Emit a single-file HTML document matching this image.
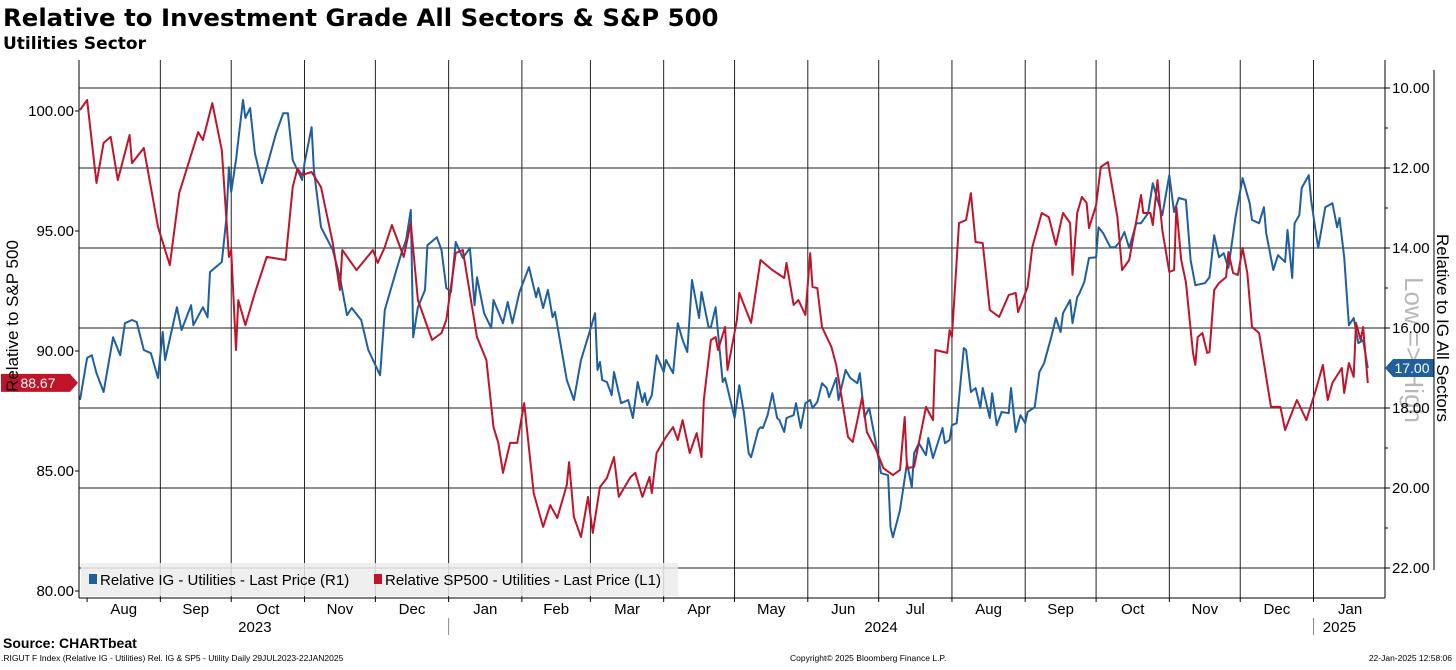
<!DOCTYPE html>
<html><head><meta charset="utf-8"><style>
html,body{margin:0;padding:0;background:#fff;}
body{width:1456px;height:665px;overflow:hidden;position:relative;font-family:"Liberation Sans","DejaVu Sans",sans-serif;}
svg text{font-family:"Liberation Sans","DejaVu Sans",sans-serif;}
</style></head><body>
<svg id="chart" width="1456" height="665" xmlns="http://www.w3.org/2000/svg">
<text x="3" y="26" font-size="24.4" font-weight="bold" fill="#000" style="font-family:'DejaVu Sans',sans-serif">Relative to Investment Grade All Sectors &amp; S&amp;P 500</text>
<text x="3" y="49" font-size="17" font-weight="bold" fill="#000" style="font-family:'DejaVu Sans',sans-serif">Utilities Sector</text>
<g id="grid"></g>
<g id="watermark"><text x="1405" y="350" font-size="26" fill="#b8b8b8" text-anchor="middle" transform="rotate(90 1405 350)">Low =&gt; High</text></g>
<g id="series"></g>
<g id="legend">
<rect x="81" y="563" width="597" height="33" fill="#ececec" fill-opacity="0.85"/>
<rect x="89" y="574" width="8" height="10" fill="#1f5f9e"/>
<text x="100" y="585" font-size="15" fill="#000">Relative IG - Utilities - Last Price (R1)</text>
<rect x="374" y="574" width="8" height="10" fill="#c0142b"/>
<text x="385" y="585" font-size="15" fill="#000">Relative SP500 - Utilities - Last Price (L1)</text>
</g>
<g id="axes"></g>
<text x="18" y="316" font-size="17" text-anchor="middle" transform="rotate(-90 18 316)">Relative to S&amp;P 500</text>
<text x="1437" y="328" font-size="17" text-anchor="middle" transform="rotate(90 1437 328)">Relative to IG All Sectors</text>
<line x1="1434" y1="70" x2="1434" y2="570" stroke="#000" stroke-width="1"/>
<text x="3" y="648" font-size="14" font-weight="bold">Source: CHARTbeat</text>
<text x="1" y="661" font-size="8.5">.RIGUT F Index (Relative IG - Utilities) Rel. IG &amp; SP5 - Utility  Daily 29JUL2023-22JAN2025</text>
<text x="790" y="661" font-size="8.5">Copyright© 2025 Bloomberg Finance L.P.</text>
<text x="1452" y="661" font-size="8.5" text-anchor="end">22-Jan-2025 12:58:06</text>
</svg>
<script>
// ---- data (days since 29 Jul 2023) ----
const redDays = [0,3,7,10,13,16,21,22,27,33,38,42,50,52,56,60,63,64,66,67,70,74,79,87,90,92,94,98,102,107,110,111,117,124,126,129,132,137,140,143,149,153,155,159,162,168,172,175,177,179,182,185,188,192,196,199,202,206,207,209,212,215,217,220,223,226,228,233,235,238,241,242,244,248,251,253,255,258,261,263,264,267,269,270,273,274,278,279,284,288,293,298,299,302,304,307,309,310,312,314,318,320,322,325,327,329,331,333,337,340,344,347,349,350,353,358,361,362,367,368,369,372,375,377,379,382,385,389,393,396,397,401,403,407,410,413,416,419,420,422,424,426,427,430,432,435,439,441,444,449,450,453,454,456,458,461,463,464,466,468,471,472,473,475,477,478,480,482,485,486,488,490,492,494,496,499,501,504,508,510,515,519,523,526,528,530,534,535,537,539,540,542,543,545];
const redVals = [100.04,100.46,97.0,98.67,98.92,97.12,99.0,97.83,98.46,95.17,93.58,96.58,99.12,98.79,100.33,98.37,93.92,94.21,90.04,92.12,91.08,92.42,93.92,93.79,96.83,97.6,97.33,97.46,96.83,94.5,92.54,94.21,93.37,94.21,93.67,94.33,95.25,93.92,95.33,92.12,90.46,90.75,91.29,94.08,94.21,90.58,89.62,86.83,86.17,84.92,86.17,86.17,87.83,84.08,82.67,83.58,83.04,84.42,85.37,83.08,82.25,83.92,82.42,84.33,84.71,85.58,83.92,84.75,84.92,83.92,84.75,84.08,85.75,86.42,86.83,86.29,87.12,85.75,86.58,85.58,87.96,90.46,90.58,90.04,91.0,89.21,91.29,92.42,91.17,93.79,93.37,93.04,93.67,91.92,92.12,91.5,94.08,92.67,92.62,91.0,90.17,89.42,88.25,86.42,86.21,87.12,88.08,86.62,85.87,85.12,84.83,85.04,87.25,85.12,85.17,87.67,87.12,90.04,89.92,90.87,90.58,95.33,95.46,96.58,94.54,94.5,91.71,91.42,92.33,92.42,91.62,92.67,94.33,95.75,95.58,94.42,95.75,95.33,93.17,95.75,96.42,96.17,95.12,96.08,97.67,97.87,95.58,93.37,93.79,96.5,95.75,95.75,95.25,97.12,95.04,93.29,93.37,96.0,93.79,92.87,89.92,89.42,90.58,90.75,89.92,89.96,92.54,92.83,93.08,94.12,93.25,93.17,94.29,93.25,91.0,90.75,89.5,87.67,87.67,86.71,87.96,87.12,88.37,89.42,87.96,88.67,89.29,88.25,89.5,88.92,91.17,90.46,91.0,88.67];
const blueDays = [0,3,5,7,10,14,17,19,22,24,27,30,33,35,36,41,43,47,48,52,54,55,60,62,63,64,66,69,70,72,74,77,79,83,86,88,90,94,95,98,99,102,107,110,113,115,119,122,127,129,133,136,138,140,141,143,146,147,151,153,155,157,159,162,165,167,168,171,174,175,179,181,183,186,190,193,194,196,198,200,201,206,209,212,215,218,219,220,221,223,225,226,229,232,234,236,238,239,240,242,244,247,248,251,253,255,257,259,262,263,266,267,269,272,273,277,279,281,283,284,287,288,289,291,293,295,296,298,299,302,303,305,307,309,310,312,314,316,317,320,321,324,326,329,330,332,334,336,339,342,343,344,347,350,352,353,355,358,359,361,365,366,368,369,371,374,375,377,379,381,382,385,386,388,390,393,394,396,398,400,401,404,406,408,411,413,415,416,419,420,422,423,425,427,430,431,433,436,438,440,442,444,447,449,452,454,456,458,461,463,465,468,470,472,476,478,480,482,484,486,489,492,495,496,499,501,502,505,507,510,511,513,514,516,517,520,521,524,527,530,532,533,535,537,539,541,543,545];
const blueVals = [17.8,16.75,16.68,17.13,17.6,16.23,16.68,15.88,15.8,15.85,16.55,16.63,17.25,16.1,16.8,15.48,16.05,15.43,15.93,15.48,15.73,14.6,14.35,13.23,11.98,12.6,11.8,10.3,10.75,10.5,11.63,12.38,11.98,11.13,10.63,10.63,11.8,12.3,11.88,10.98,12.05,13.48,14.05,14.73,15.68,15.5,15.8,16.55,17.18,15.55,14.73,14.13,13.8,13.05,16.23,15.48,15.05,13.93,13.73,14.05,15.0,15.1,13.85,14.25,14.0,15.43,14.73,15.63,16.0,15.3,15.88,15.35,15.88,15.1,14.48,15.23,15.0,15.5,15.05,15.73,15.6,17.3,17.8,16.8,16.23,15.63,17.05,16.85,17.3,17.35,17.68,17.1,17.88,17.8,18.25,17.35,17.85,17.63,17.93,17.68,16.68,17.1,16.8,17.13,15.88,16.3,16.6,14.8,15.75,15.1,15.98,15.98,15.48,17.35,17.25,18.25,17.43,18.13,19.13,19.23,18.55,18.48,18.5,18.18,17.63,18.25,18.3,18.6,18.25,18.18,17.88,18.5,17.88,17.8,18.0,17.85,17.38,17.5,17.73,17.25,17.8,17.05,17.25,17.38,17.13,18.23,18.0,18.63,19.63,19.68,20.98,21.23,20.55,19.38,19.98,19.13,18.88,19.18,18.75,19.25,18.5,18.88,18.8,18.43,18.38,16.5,16.55,17.6,17.5,18.0,17.5,18.25,17.63,18.43,18.1,18.13,17.5,18.6,18.18,18.38,18.1,17.98,17.1,16.88,16.23,15.75,16.1,15.63,15.3,15.88,15.23,15.13,14.85,14.25,14.23,13.48,13.63,13.98,13.98,13.85,13.6,14.0,13.38,13.38,13.13,12.38,12.8,13.18,12.18,13.1,12.75,12.8,14.3,14.93,14.88,14.73,13.68,14.23,14.13,14.5,13.23,12.25,12.88,13.3,13.38,12.98,13.63,14.55,14.18,14.35,13.55,14.75,13.38,13.18,12.5,12.18,12.8,14.0,12.98,12.88,13.48,13.25,14.23,15.93,15.75,16.38,16.3,17.0];
const leftTicks = [80,85,90,95,100];
const leftTickLabels = ["80.00","85.00","90.00","95.00","100.00"];
const rightTicks = [10,12,14,16,18,20,22];
const rightTickLabels = ["10.00","12.00","14.00","16.00","18.00","20.00","22.00"];
const monthLabels = ["Aug","Sep","Oct","Nov","Dec","Jan","Feb","Mar","Apr","May","Jun","Jul","Aug","Sep","Oct","Nov","Dec","Jan"];
const monthStartDays = [3,34,64,95,125,156,187,216,247,277,308,338,369,400,430,461,491,522];
const yearLabels = ["2023","2024","2025"];
const yearMidDays = [74,339,533];
const lastRed = 88.67, lastBlue = 17.00;

// ---- axes ----
const X0 = 80, PX_PER_DAY = 2.363, PLOT_L = 79, PLOT_R = 1385, PLOT_T = 60, PLOT_B = 598;
const xOf = d => X0 + d * PX_PER_DAY;
const yLeft = v => 111 + (100 - v) * 24;
const yRight = v => 88 + (v - 10) * 40;
const NS = "http://www.w3.org/2000/svg";
function mk(tag, attrs, parent){ const e=document.createElementNS(NS,tag); for(const k in attrs) e.setAttribute(k,attrs[k]); parent.appendChild(e); return e; }
const grid = document.getElementById('grid'), axes = document.getElementById('axes'), series = document.getElementById('series');

rightTicks.forEach((v,i)=>{
  const g = mk('line',{x1:PLOT_L,x2:PLOT_R,y1:yRight(v),y2:yRight(v),stroke:(v===16?'#666':'#222'),'stroke-width':(v===16?1.5:1)},grid);
  
  
  const t = mk('line',{x1:PLOT_R,x2:PLOT_R+5,y1:yRight(v),y2:yRight(v),stroke:'#000'},axes);
  
  
  const l = mk('text',{x:PLOT_R+7,y:yRight(v)+5,'font-size':15},axes); l.textContent = rightTickLabels[i];
  
  
  if (v<22){ const m = mk('line',{x1:PLOT_R,x2:PLOT_R+3,y1:yRight(v+1),y2:yRight(v+1),stroke:'#000'},axes);
    
     }
});
monthStartDays.forEach((d,i)=>{
  const x = xOf(d);
  if (i>0){ const g = mk('line',{x1:x,x2:x,y1:PLOT_T,y2:PLOT_B,stroke:'#222','stroke-width':1},grid);
    
     }
  const t = mk('line',{x1:x,x2:x,y1:PLOT_B,y2:PLOT_B+4,stroke:'#000'},axes);
  
  
  const next = i+1<monthStartDays.length ? monthStartDays[i+1] : 553;
  const l = mk('text',{x:xOf((d+next)/2),y:PLOT_B+16,'font-size':15,'text-anchor':'middle'},axes); l.textContent = monthLabels[i];
  
  
});
yearLabels.forEach((y,i)=>{
  const l = mk('text',{x:xOf(yearMidDays[i]),y:PLOT_B+34,'font-size':15,'text-anchor':'middle'},axes); l.textContent=y;
  
  
});
[monthStartDays[5], monthStartDays[17]].forEach(d=>{
  const s = mk('line',{x1:xOf(d),x2:xOf(d),y1:PLOT_B+20,y2:PLOT_B+37,stroke:'#888'},axes);
  
  
});
leftTicks.forEach((v,i)=>{
  const t = mk('line',{x1:PLOT_L-4,x2:PLOT_L,y1:yLeft(v),y2:yLeft(v),stroke:'#000'},axes);
  
  
  const l = mk('text',{x:PLOT_L-5,y:yLeft(v)+5,'font-size':15,'text-anchor':'end'},axes); l.textContent = leftTickLabels[i];
  
  
});
const la = mk('line',{x1:PLOT_L,x2:PLOT_L,y1:PLOT_T,y2:PLOT_B,stroke:'#000'},axes);


const ra = mk('line',{x1:PLOT_R,x2:PLOT_R,y1:PLOT_T,y2:PLOT_B,stroke:'#000'},axes);


const ba = mk('line',{x1:PLOT_L,x2:PLOT_R,y1:PLOT_B,y2:PLOT_B,stroke:'#000'},axes);



// ---- series ----
const bp = mk('polyline',{points:blueDays.map((d,i)=>xOf(d).toFixed(1)+','+yRight(blueVals[i]).toFixed(1)).join(' '),fill:'none',stroke:'#1f5f9e','stroke-width':2,'stroke-linejoin':'round'},series);


const rp = mk('polyline',{points:redDays.map((d,i)=>xOf(d).toFixed(1)+','+yLeft(redVals[i]).toFixed(1)).join(' '),fill:'none',stroke:'#c0142b','stroke-width':2,'stroke-linejoin':'round'},series);



// ---- last value tags ----
const ry = yLeft(lastRed);
const rt = mk('path',{d:`M1 ${ry-9} H70 L78 ${ry} L70 ${ry+9} H1 Z`,fill:'#c0142b'},axes);


const rtl = mk('text',{x:38,y:ry+5,'font-size':14,fill:'#fff','text-anchor':'middle'},axes); rtl.textContent = lastRed.toFixed(2);


const by = yRight(lastBlue);
const bt = mk('path',{d:`M${PLOT_R} ${by} L${PLOT_R+8} ${by-9} H1434 V${by+9} H${PLOT_R+8} Z`,fill:'#1f5f9e'},axes);


const btl = mk('text',{x:1412,y:by+5,'font-size':14,fill:'#fff','text-anchor':'middle'},axes); btl.textContent = lastBlue.toFixed(2);


</script>
</body></html>
